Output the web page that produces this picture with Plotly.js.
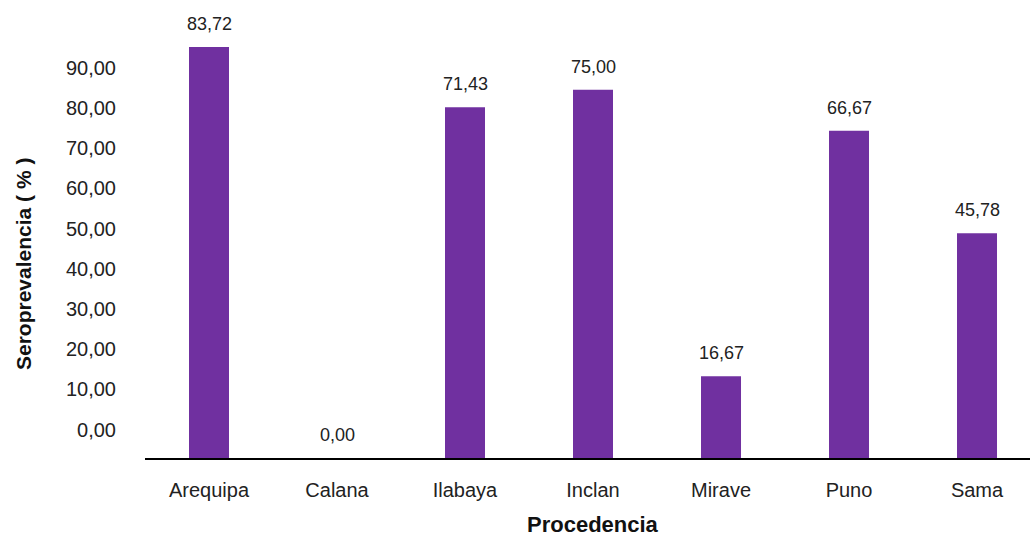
<!DOCTYPE html>
<html>
<head>
<meta charset="utf-8">
<script src="https://cdn.plot.ly/plotly-3.0.1.min.js"></script>
<style>html,body{margin:0;padding:0;background:#fff;}#chart{width:1030px;height:538px;}</style>
</head>
<body>
<div id="chart"></div>
<script>
// Data
const categories = ["Arequipa", "Calana", "Ilabaya", "Inclan", "Mirave", "Puno", "Sama"];
const seroprevalence = [83.72, 0.00, 71.43, 75.00, 16.67, 66.67, 45.78];
const yTickValues = [0, 10, 20, 30, 40, 50, 60, 70, 80, 90];
const yTickLabels = ["0,00", "10,00", "20,00", "30,00", "40,00", "50,00", "60,00", "70,00", "80,00", "90,00"];
const xTitle = "Procedencia";
const yTitle = "Seroprevalencia ( % )";

const fmt = v => v.toFixed(2).replace('.', ',');
const regular = '"Liberation Sans", Arial, sans-serif';

const traces = [
  {
    type: 'bar',
    x: categories,
    y: seroprevalence,
    marker: {color: '#7030A0', line: {width: 0}},
    hoverinfo: 'x+y',
    showlegend: false
  },
  {
    type: 'scatter',
    x: [],
    y: [],
    yaxis: 'y2',
    showlegend: false,
    hoverinfo: 'skip'
  }
];

const annotations = categories.map((c, i) => ({
  x: c,
  y: seroprevalence[i],
  xref: 'x',
  yref: 'y',
  text: fmt(seroprevalence[i]),
  showarrow: false,
  yanchor: 'bottom',
  yshift: 11,
  font: {family: regular, size: 18, color: '#222'}
}));

annotations.push({
  xref: 'paper', yref: 'paper',
  x: 0, xshift: -122,
  y: 0.433,
  xanchor: 'center', yanchor: 'middle',
  textangle: -90,
  text: '<b>' + yTitle + '</b>',
  showarrow: false,
  font: {family: regular, size: 21, color: '#111'}
});
annotations.push({
  xref: 'paper', yref: 'paper',
  x: 0.506,
  y: 0, yshift: -66,
  xanchor: 'center', yanchor: 'middle',
  text: '<b>' + xTitle + '</b>',
  showarrow: false,
  font: {family: regular, size: 22, color: '#111'}
});

const layout = {
  width: 1030,
  height: 538,
  margin: {l: 145, r: 0, t: 10, b: 80, pad: 0},
  paper_bgcolor: '#fff',
  plot_bgcolor: '#fff',
  bargap: 0.6875,
  showlegend: false,
  xaxis: {
    type: 'category',
    range: [-0.5, 6.414],
    showline: true,
    linecolor: '#000',
    linewidth: 2,
    showgrid: false,
    zeroline: false,
    ticks: 'outside',
    ticklen: 13,
    tickcolor: 'rgba(0,0,0,0)',
    tickfont: {family: regular, size: 20, color: '#222'},
    automargin: false
  },
  yaxis: {
    range: [0, 91.24],
    showticklabels: false,
    showgrid: false,
    zeroline: false,
    showline: false,
    ticks: ''
  },
  yaxis2: {
    overlaying: 'y',
    side: 'left',
    range: [-7.03, 104.3],
    tickmode: 'array',
    tickvals: yTickValues,
    ticktext: yTickLabels,
    showgrid: false,
    zeroline: false,
    showline: false,
    ticks: 'outside',
    ticklen: 24,
    tickcolor: 'rgba(0,0,0,0)',
    tickfont: {family: regular, size: 20, color: '#222'},
    automargin: false
  },
  annotations: annotations
};

Plotly.newPlot('chart', traces, layout, {staticPlot: true, displayModeBar: false});
</script>
</body>
</html>
